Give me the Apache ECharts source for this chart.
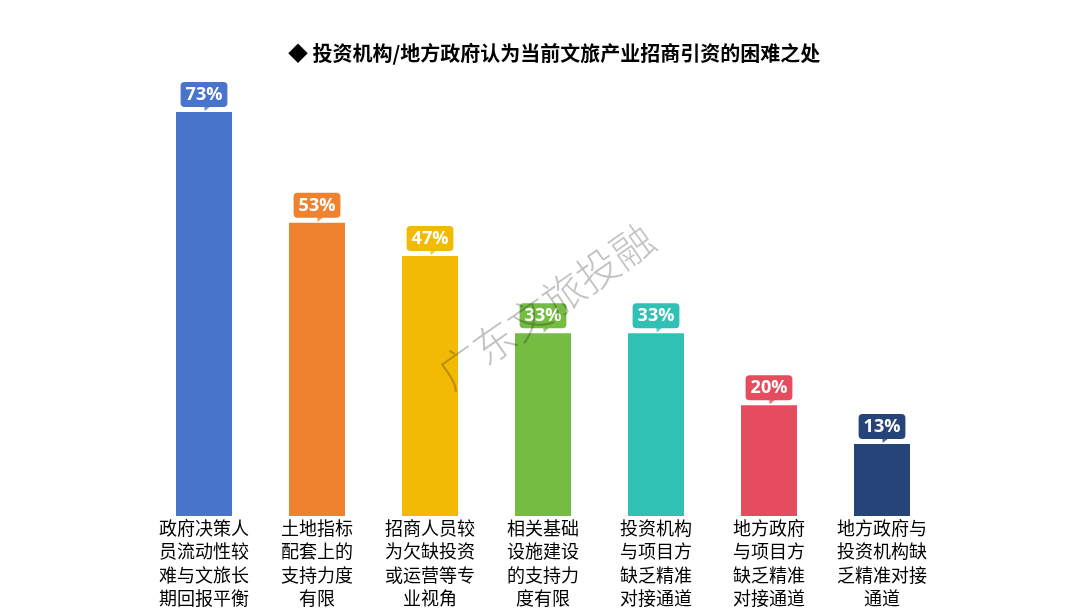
<!DOCTYPE html>
<html><head><meta charset="utf-8">
<script src="https://cdn.jsdelivr.net/npm/echarts@6/dist/echarts.min.js"></script>
<style>html,body{margin:0;padding:0;background:#fff}#c{width:1080px;height:608px}</style>
</head><body><div id="c"></div>
<script>
const titleText = '◆ 投资机构/地方政府认为当前文旅产业招商引资的困难之处';
const categories = [
  '政府决策人\n员流动性较\n难与文旅长\n期回报平衡',
  '土地指标\n配套上的\n支持力度\n有限',
  '招商人员较\n为欠缺投资\n或运营等专\n业视角',
  '相关基础\n设施建设\n的支持力\n度有限',
  '投资机构\n与项目方\n缺乏精准\n对接通道',
  '地方政府\n与项目方\n缺乏精准\n对接通道',
  '地方政府与\n投资机构缺\n乏精准对接\n通道'
];
const values = [73, 53, 47, 33, 33, 20, 13];
const colors = ['#4874CB', '#EE822F', '#F2BA02', '#75BD42', '#30C0B4', '#E54C5E', '#264478'];
const watermark = '广东文旅投融';

const chart = echarts.init(document.getElementById('c'));
chart.setOption({
  animation: false,
  title: {
    text: titleText, left: 283, top: 38,
    textStyle: {fontFamily: 'Noto Sans CJK SC', fontSize: 20, fontWeight: 'bold', color: '#000'}
  },
  grid: {left: 147.5, right: 141.5, top: 112, bottom: 92, containLabel: false, outerBoundsMode: 'none'},
  xAxis: {
    type: 'category', data: categories,
    axisLine: {show: false}, axisTick: {show: false},
    axisLabel: {interval: 0, margin: 0, color: '#000', fontSize: 18, lineHeight: 23.5,
      fontFamily: 'Noto Sans CJK SC', align: 'center'}
  },
  yAxis: {type: 'value', min: 0, max: 73, show: false, splitLine: {show: false}},
  series: [
    {
      type: 'bar', barWidth: 56, z: 2,
      data: values.map((v, i) => ({value: v, itemStyle: {color: colors[i]},
        label: {backgroundColor: colors[i]}})),
      label: {
        show: true, position: 'top', distance: 5,
        formatter: '{c}%', color: '#fff', fontWeight: 'bold', fontSize: 18,
        fontFamily: 'Open Sans', padding: [4, 5, 3, 5], borderRadius: 4
      }
    },
    {
      type: 'scatter', z: 3,
      symbol: 'path://M0,0 L10,0 L1,8 Z', symbolSize: [8, 6], symbolOffset: [4, -4],
      data: values.map((v, i) => ({value: v, itemStyle: {color: colors[i]}})),
      silent: true
    }
  ],
  graphic: [{
    type: 'text', x: 546, y: 306, rotation: Math.PI * 35 / 180, z: 100, silent: true,
    style: {text: watermark, fontSize: 42, fontFamily: 'Noto Sans CJK SC', fontWeight: 300,
      align: 'center', verticalAlign: 'middle', fill: 'rgba(0,0,0,0.24)'}
  }]
});
</script></body></html>
